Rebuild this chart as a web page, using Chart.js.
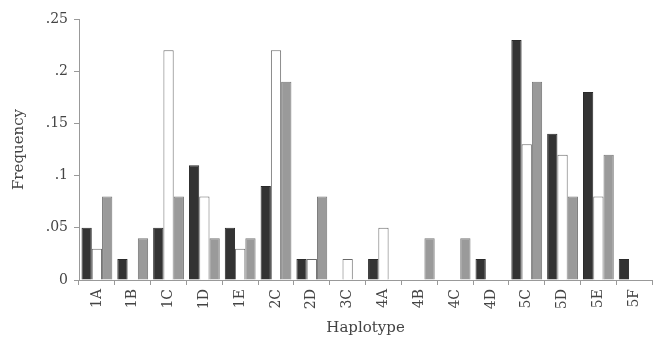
<!DOCTYPE html>
<html>
<head>
<meta charset="utf-8">
<script src="https://cdn.jsdelivr.net/npm/chart.js@4/dist/chart.umd.min.js"></script>
<style>
html,body{margin:0;padding:0;background:#fff;}
#wrap{width:655px;height:337px;position:relative;}
</style>
</head>
<body>
<div id="wrap"><canvas id="c" width="655" height="337"></canvas></div>
<script>
const categories = ['1A','1B','1C','1D','1E','2C','2D','3C','4A','4B','4C','4D','5C','5D','5E','5F'];
const seriesDark  = [0.05,0.02,0.05,0.11,0.05,0.09,0.02,0,   0.02,0,   0,   0.02,0.23,0.14,0.18,0.02];
const seriesWhite = [0.03,0,   0.22,0.08,0.03,0.22,0.02,0.02,0.05,0,   0,   0,   0.13,0.12,0.08,0];
const seriesGray  = [0.08,0.04,0.08,0.04,0.04,0.19,0.08,0,   0,   0.04,0.04,0,   0.19,0.08,0.12,0];
const yTickLabels = ['0','.05','.1','.15','.2','.25'];

const FONT = 'DejaVu Serif';
const textColor = '#444';

new Chart(document.getElementById('c'), {
  type: 'bar',
  data: {
    labels: categories,
    datasets: [
      {data: seriesDark,  backgroundColor:'#333333', borderColor:'#2a2a2a', borderWidth:1},
      {data: seriesWhite, backgroundColor:'#ffffff', borderColor:'#6a6a6a', borderWidth:1},
      {data: seriesGray,  backgroundColor:'#9a9a9a', borderColor:'#777777', borderWidth:1}
    ]
  },
  options: {
    responsive:false,
    animation:false,
    devicePixelRatio:1,
    categoryPercentage:0.86,
    barPercentage:1.0,
    layout:{padding:{top:19,right:0,left:0,bottom:0}},
    plugins:{legend:{display:false},tooltip:{enabled:false}},
    scales:{
      x:{
        grid:{drawOnChartArea:false, drawTicks:true, tickLength:5, color:'#999', offset:true},
        border:{color:'#999'},
        ticks:{minRotation:90, maxRotation:90, color:textColor, font:{family:FONT,size:14}, padding:4},
        title:{display:true, text:'Haplotype', color:textColor, font:{family:FONT,size:15}, padding:{top:0,bottom:0}},
        afterFit:s=>{s.height=57;}
      },
      y:{
        min:0, max:0.25,
        ticks:{stepSize:0.05, color:textColor, font:{family:FONT,size:14}, padding:6,
          callback:(v,i)=>yTickLabels[i]},
        grid:{drawOnChartArea:false, drawTicks:true, tickLength:5, color:'#999'},
        border:{color:'#999'},
        title:{display:true, text:'Frequency', color:textColor, font:{family:FONT,size:15}, padding:{top:10,bottom:0}},
        afterFit:s=>{s.width=79;}
      }
    }
  }
});
</script>
</body>
</html>
